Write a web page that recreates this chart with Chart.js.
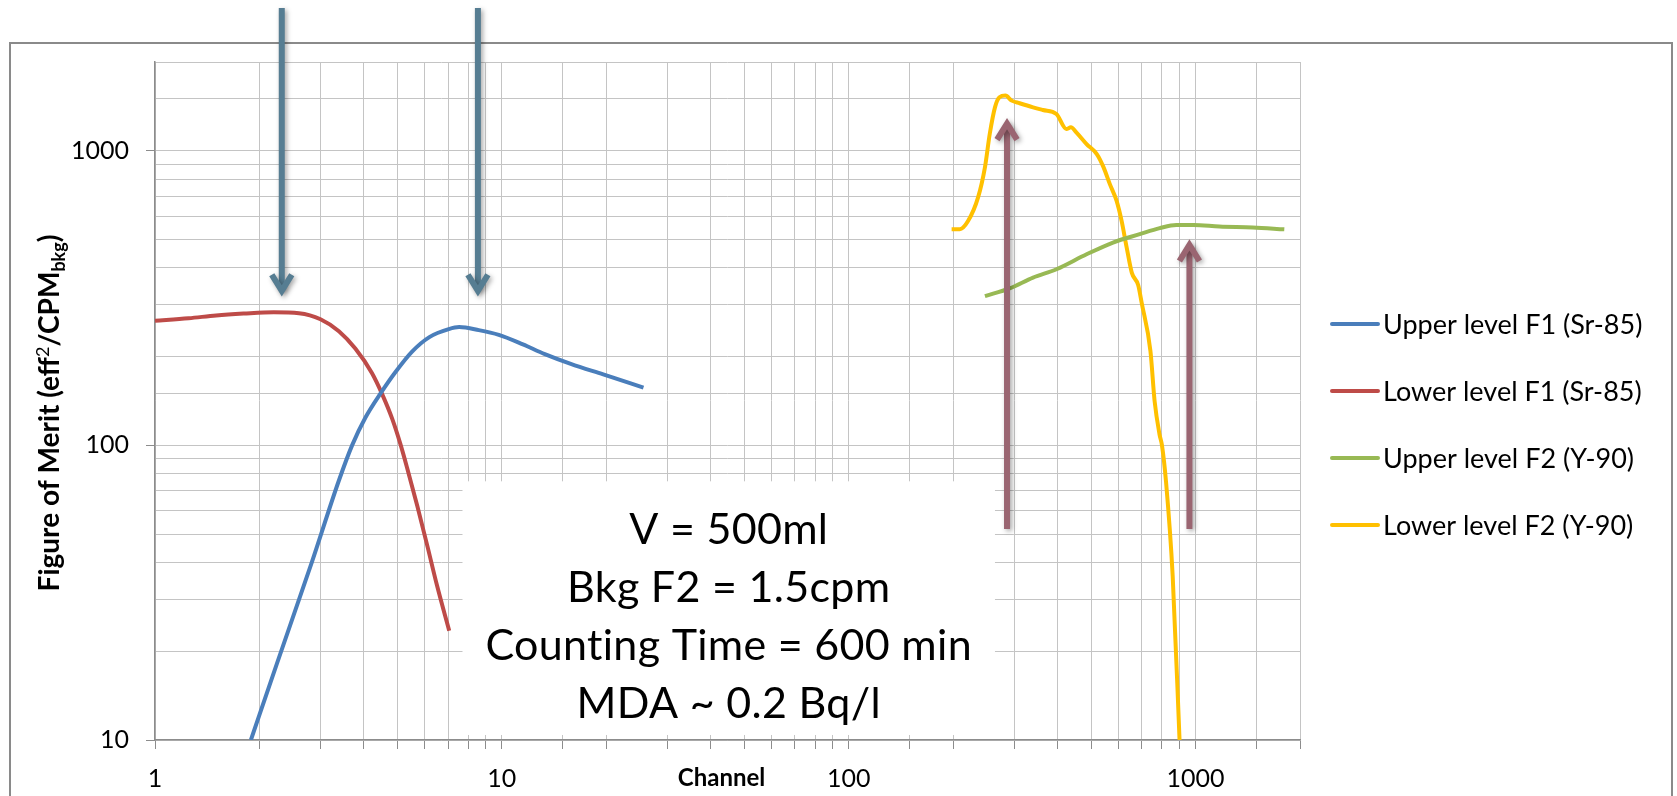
<!DOCTYPE html>
<html>
<head>
<meta charset="utf-8">
<title>Figure of Merit vs Channel</title>
<script src="https://cdn.jsdelivr.net/npm/chart.js@4.4.1/dist/chart.umd.min.js"></script>
<style>
  html, body { margin: 0; padding: 0; background: #fff; }
</style>
</head>
<body>
<canvas id="fomChart" width="1677" height="796"></canvas>
<script>
// ---- data (channel vs figure of merit) ----
const upperF1Channel = [1.89, 2.24, 2.83, 3.39, 3.70, 4.04, 4.47, 4.93, 5.51, 6.18, 7.03, 7.53, 8.58, 9.8, 11.5, 13.3, 15.8, 19.6, 25.6];
const upperF1Merit   = [10, 18, 40, 76, 100, 124, 150, 177, 208, 233, 248, 252, 246, 237, 220, 204, 189, 174, 157];

const lowerF1Channel = [1, 1.25, 1.5, 1.8, 2.2, 2.6, 3.0, 3.39, 3.78, 4.22, 4.52, 4.83, 5.1, 5.33, 5.7, 6.1, 6.5, 7.05];
const lowerF1Merit   = [265, 270, 276, 280, 283, 281, 268, 244, 213, 176, 149, 123, 101, 84, 62.5, 45.5, 33.5, 23.5];

const upperF2Channel = [247, 291, 340, 397, 485, 578, 690, 788, 880, 987, 1171, 1461, 1802];
const upperF2Merit   = [321, 341, 371, 396, 445, 488, 521, 546, 560, 560, 553, 549, 541];

const lowerF2Channel = [198, 209, 221, 236, 247, 255, 264, 272, 283, 295, 311, 340, 363, 397, 424, 437, 453, 485, 519, 543, 566, 592, 612, 633, 655, 683, 699, 741, 762, 787, 800, 822, 859, 899];
const lowerF2Merit   = [541, 541, 578, 694, 878, 1139, 1403, 1518, 1538, 1479, 1449, 1403, 1374, 1332, 1185, 1200, 1154, 1053, 974, 878, 770, 676, 578, 469, 385, 350, 305, 209, 141, 109, 100, 75, 36, 10];

const seriesNames  = ["Upper level F1 (Sr-85)", "Lower level F1 (Sr-85)", "Upper level F2 (Y-90)", "Lower level F2 (Y-90)"];
const seriesColors = ["#4a7ebb", "#be4b48", "#98b954", "#ffc000"];

const xTickLabels = [1, 10, 100, 1000];
const yTickLabels = [10, 100, 1000];

const noteLines = ["V = 500ml", "Bkg F2 = 1.5cpm", "Counting Time = 600 min", "MDA ~ 0.2 Bq/l"];

// arrows in data units: channel, start value, tip value
const downArrows = [{ x: 2.32, from: 3050, to: 327 }, { x: 8.53, from: 3050, to: 327 }];
const upArrows   = [{ x: 286, from: 52, to: 1265 }, { x: 960, from: 52, to: 490 }];

const FONT = "Lato, 'Open Sans', sans-serif";

function pairs(xs, ys) {
  return xs.map((x, i) => ({ x: x, y: ys[i] }));
}

function isDecade(v, list) {
  return list.some(t => Math.abs(t - v) < 1e-6);
}

// ==========================
// extra drawing: frame, note box, titles, legend, arrows
// ==========================
function drawArrow(ctx, x, yFrom, yTo, color) {
  const dir = yTo > yFrom ? 1 : -1;
  ctx.save();
  ctx.strokeStyle = color;
  ctx.lineWidth = 6;
  ctx.lineJoin = "miter";
  ctx.shadowColor = "rgba(0,0,0,0.35)";
  ctx.shadowBlur = 5;
  ctx.shadowOffsetX = 2;
  ctx.shadowOffsetY = 2;
  ctx.beginPath();
  ctx.moveTo(x, yFrom);
  ctx.lineTo(x, yTo - dir * 4);
  ctx.stroke();
  ctx.beginPath();
  ctx.moveTo(x - 10, yTo - dir * 19);
  ctx.lineTo(x, yTo - dir * 3);
  ctx.lineTo(x + 10, yTo - dir * 19);
  ctx.stroke();
  ctx.restore();
}

const extras = {
  id: "extras",
  beforeDraw(chart) {
    const ctx = chart.ctx;
    ctx.save();
    ctx.fillStyle = "#fff";
    ctx.fillRect(0, 0, chart.width, chart.height);
    ctx.strokeStyle = "#8a8a8a";
    ctx.lineWidth = 2;
    ctx.strokeRect(10, 43, chart.width - 15, chart.height);
    ctx.restore();
  },
  beforeDatasetsDraw(chart) {
    const ctx = chart.ctx;
    const xs = chart.scales.x, ys = chart.scales.y;
    const left = xs.getPixelForValue(7.7), right = xs.getPixelForValue(264);
    const top = ys.getPixelForValue(75.5), bottom = ys.getPixelForValue(10.4);
    ctx.save();
    ctx.fillStyle = "#fff";
    ctx.fillRect(left, top, right - left, bottom - top);
    ctx.fillStyle = "#000";
    ctx.font = "43px " + FONT;
    ctx.letterSpacing = "0.3px";
    ctx.textAlign = "center";
    ctx.textBaseline = "middle";
    const cx = (left + right) / 2, cy = (top + bottom) / 2 + 9;
    noteLines.forEach((t, i) => ctx.fillText(t, cx, cy + (i - 1.5) * 58));
    ctx.restore();
  },
  afterDraw(chart) {
    const ctx = chart.ctx;
    const area = chart.chartArea;
    const xs = chart.scales.x, ys = chart.scales.y;
    ctx.save();

    // x axis title sits in the tick label row
    ctx.fillStyle = "#000";
    ctx.font = "bold 24px " + FONT;
    ctx.textAlign = "center";
    ctx.textBaseline = "middle";
    ctx.fillText("Channel", xs.getPixelForValue(43), area.bottom + 38);

    // y axis title with super/subscript
    const parts = [
      { t: "Figure of Merit (eff", f: "bold 28px " + FONT, dy: 0 },
      { t: "2", f: "18px " + FONT, dy: -10 },
      { t: "/CPM", f: "bold 28px " + FONT, dy: 0 },
      { t: "bkg", f: "bold 18px " + FONT, dy: 6 },
      { t: ")", f: "bold 28px " + FONT, dy: 0 }
    ];
    let total = 0;
    parts.forEach(p => { ctx.font = p.f; p.w = ctx.measureText(p.t).width; total += p.w; });
    ctx.translate(59, (area.top + area.bottom) / 2 + 12);
    ctx.rotate(-Math.PI / 2);
    ctx.textAlign = "left";
    ctx.textBaseline = "alphabetic";
    let px = -total / 2;
    parts.forEach(p => { ctx.font = p.f; ctx.fillText(p.t, px, p.dy); px += p.w; });
    ctx.setTransform(1, 0, 0, 1, 0, 0);

    // legend
    ctx.font = "27px " + FONT;
    ctx.textAlign = "left";
    ctx.textBaseline = "middle";
    const lx = area.right + 32;
    const ly0 = (area.top + area.bottom) / 2 - 77;
    seriesNames.forEach((name, i) => {
      const y = ly0 + i * 67;
      ctx.strokeStyle = seriesColors[i];
      ctx.lineWidth = 4;
      ctx.lineCap = "round";
      ctx.beginPath();
      ctx.moveTo(lx, y);
      ctx.lineTo(lx + 46, y);
      ctx.stroke();
      ctx.fillStyle = "#000";
      ctx.fillText(name, lx + 51, y + 1);
    });
    ctx.restore();

    // arrows
    downArrows.forEach(a => drawArrow(ctx, xs.getPixelForValue(a.x), ys.getPixelForValue(a.from), ys.getPixelForValue(a.to), "#567d92"));
    upArrows.forEach(a => drawArrow(ctx, xs.getPixelForValue(a.x), ys.getPixelForValue(a.from), ys.getPixelForValue(a.to), "#9a6571"));
  }
};

// ==========================
// chart
// ==========================
const allData = [
  pairs(upperF1Channel, upperF1Merit),
  pairs(lowerF1Channel, lowerF1Merit),
  pairs(upperF2Channel, upperF2Merit),
  pairs(lowerF2Channel, lowerF2Merit)
];

new Chart(document.getElementById("fomChart"), {
  type: "scatter",
  data: {
    datasets: allData.map((d, i) => ({
      label: seriesNames[i],
      data: d,
      showLine: true,
      borderColor: seriesColors[i],
      backgroundColor: seriesColors[i],
      borderWidth: 4,
      pointRadius: 0,
      cubicInterpolationMode: "monotone"
    }))
  },
  options: {
    responsive: false,
    devicePixelRatio: 1,
    animation: false,
    layout: { padding: { left: 0, top: 62, right: 377, bottom: 0 } },
    plugins: {
      legend: { display: false },
      title: { display: false },
      tooltip: { enabled: false }
    },
    scales: {
      x: {
        type: "logarithmic",
        min: 1,
        max: 2000,
        afterFit: s => { s.height = 56; },
        grid: { color: "#c4c4c4", lineWidth: 1, tickLength: 9, tickColor: "#8c8c8c" },
        border: { color: "#8c8c8c", width: 1.5 },
        ticks: {
          autoSkip: false,
          maxRotation: 0,
          padding: 15,
          color: "#000",
          font: { family: FONT, size: 25 },
          callback: v => isDecade(v, xTickLabels) ? String(v) : ""
        }
      },
      y: {
        type: "logarithmic",
        min: 10,
        max: 2000,
        afterFit: s => { s.width = 155; },
        grid: {
          color: "#c4c4c4",
          lineWidth: 1,
          tickLength: 9,
          tickColor: c => (c.tick && isDecade(c.tick.value, yTickLabels)) ? "#8c8c8c" : "rgba(0,0,0,0)"
        },
        border: { color: "#8c8c8c", width: 1.5 },
        ticks: {
          autoSkip: false,
          padding: 17,
          color: "#000",
          font: { family: FONT, size: 25 },
          callback: v => isDecade(v, yTickLabels) ? String(v) : ""
        }
      }
    }
  },
  plugins: [extras]
});
</script>
</body>
</html>
